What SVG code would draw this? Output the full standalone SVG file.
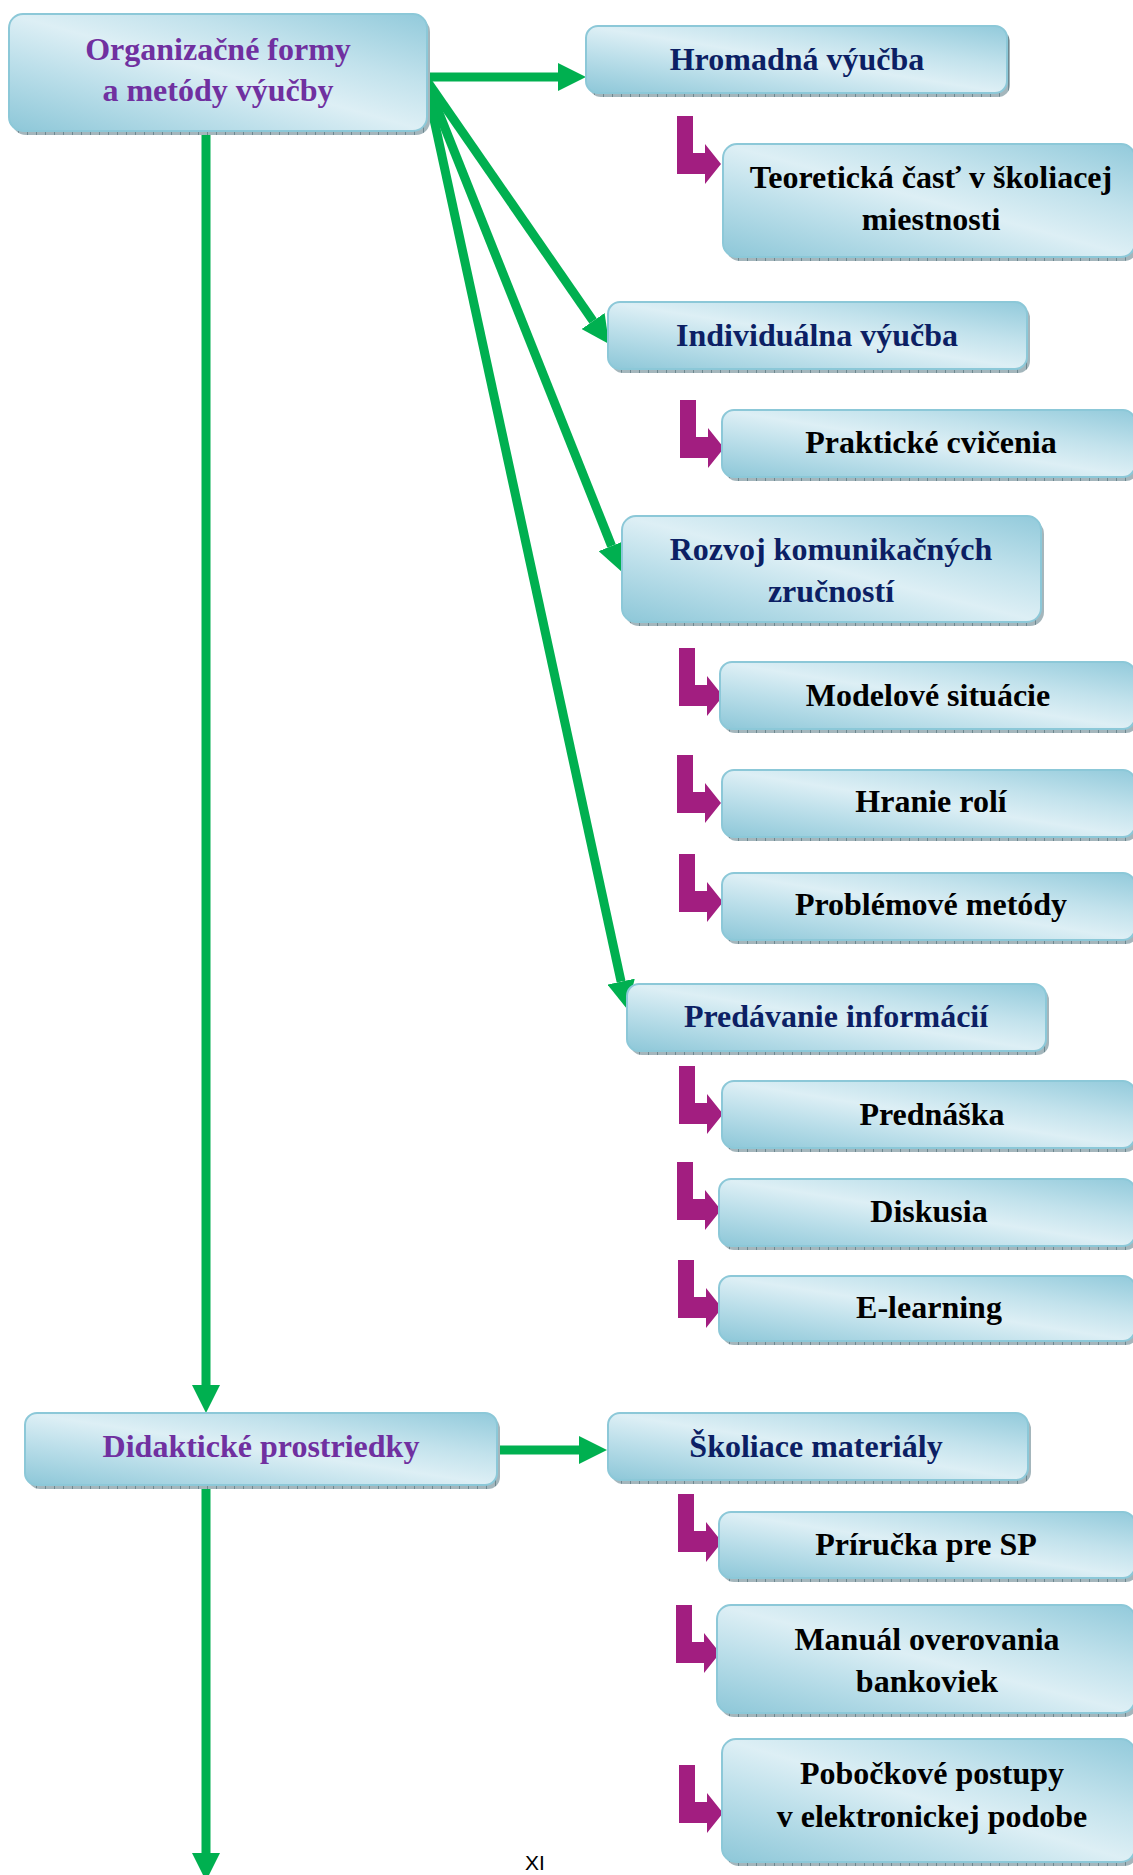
<svg xmlns="http://www.w3.org/2000/svg" xmlns:xlink="http://www.w3.org/1999/xlink" width="1133" height="1875" viewBox="0 0 1133 1875">
<style>
.box{fill:url(#grad);stroke:#8CC8D8;stroke-width:2}
.sh{fill:url(#hatch)}
text{font-family:"Liberation Serif","Times New Roman",serif;font-weight:bold;font-size:32px;text-anchor:middle}
.p{fill:#7030A0}
.n{fill:#0C1F64}
.k{fill:#000000}
.conn{stroke:#00B050;stroke-width:9;fill:none;marker-end:url(#ah)}
.L{fill:#A21E80}
.pg{font-family:"Liberation Sans",Arial,sans-serif;font-weight:normal;font-size:21px;text-anchor:start;fill:#000}
</style>
<defs>
<linearGradient id="grad" x1="0" y1="1" x2="1" y2="0">
<stop offset="0" stop-color="#8DC7D8"/>
<stop offset="0.3" stop-color="#BCDFEA"/>
<stop offset="0.5" stop-color="#DDEFF5"/>
<stop offset="0.7" stop-color="#C2E2EC"/>
<stop offset="1" stop-color="#92CADB"/>
</linearGradient>
<pattern id="hatch" width="9" height="5" patternUnits="userSpaceOnUse">
<rect width="9" height="5" fill="#A4B6BC"/>
<line x1="0.5" y1="0" x2="0.5" y2="5" stroke="#6E8890" stroke-width="1"/>
</pattern>
<marker id="ah" markerUnits="userSpaceOnUse" viewBox="0 0 28 28" markerWidth="28" markerHeight="28" refX="0" refY="14" orient="auto">
<path d="M0,0 L28,14 L0,28 Z" fill="#00B050"/>
</marker>
<path id="Lar" d="M-44,-48 H-28 V-11 H-16 V-20 L0,0 L-16,20 V10 H-44 Z"/>
</defs>
<rect width="1133" height="1875" fill="#FFFFFF"/>

<g id="connectors">
<line class="conn" x1="427" y1="77" x2="558" y2="77"/>
<line class="conn" x1="425" y1="78" x2="593.1" y2="321"/>
<line class="conn" x1="425" y1="78" x2="611.6" y2="546"/>
<line class="conn" x1="425" y1="78" x2="621.1" y2="981.6"/>
<line class="conn" x1="206" y1="131" x2="206" y2="1385"/>
<line class="conn" x1="497" y1="1450" x2="579" y2="1450"/>
<line class="conn" x1="206" y1="1486" x2="206" y2="1853"/>
<g class="L">
<use xlink:href="#Lar" x="721" y="164"/>
<use xlink:href="#Lar" x="724" y="448"/>
<use xlink:href="#Lar" x="723" y="696"/>
<use xlink:href="#Lar" x="721" y="803"/>
<use xlink:href="#Lar" x="723" y="902"/>
<use xlink:href="#Lar" x="723" y="1114"/>
<use xlink:href="#Lar" x="721" y="1210"/>
<use xlink:href="#Lar" x="722" y="1308"/>
<use xlink:href="#Lar" x="722" y="1542"/>
<use xlink:href="#Lar" x="720" y="1653"/>
<use xlink:href="#Lar" x="723" y="1813"/>
</g>
</g>

<g id="n-main">
<rect class="sh" x="12" y="18" width="418" height="117" rx="14"/>
<rect class="box" x="9" y="14" width="418" height="117" rx="14"/>
<text class="p" x="218" y="60">Organizačné formy</text>
<text class="p" x="218" y="101">a metódy výučby</text>
</g>
<g id="n-hromadna">
<rect class="sh" x="589" y="30" width="421" height="67" rx="12"/>
<rect class="box" x="586" y="26" width="421" height="67" rx="12"/>
<text class="n" x="797" y="70">Hromadná výučba</text>
</g>
<g id="n-teoreticka">
<rect class="sh" x="726" y="148" width="412" height="113" rx="14"/>
<rect class="box" x="723" y="144" width="412" height="113" rx="14"/>
<text class="k" x="931" y="188">Teoretická časť v školiacej</text>
<text class="k" x="931" y="230">miestnosti</text>
</g>
<g id="n-individualna">
<rect class="sh" x="611" y="306" width="419" height="67" rx="12"/>
<rect class="box" x="608" y="302" width="419" height="67" rx="12"/>
<text class="n" x="817" y="346">Individuálna výučba</text>
</g>
<g id="n-prakticke">
<rect class="sh" x="725" y="414" width="413" height="67" rx="12"/>
<rect class="box" x="722" y="410" width="413" height="67" rx="12"/>
<text class="k" x="931" y="453">Praktické cvičenia</text>
</g>
<g id="n-rozvoj">
<rect class="sh" x="625" y="520" width="419" height="106" rx="14"/>
<rect class="box" x="622" y="516" width="419" height="106" rx="14"/>
<text class="n" x="831" y="560">Rozvoj komunikačných</text>
<text class="n" x="831" y="602">zručností</text>
</g>
<g id="n-modelove">
<rect class="sh" x="723" y="666" width="415" height="67" rx="12"/>
<rect class="box" x="720" y="662" width="415" height="67" rx="12"/>
<text class="k" x="928" y="706">Modelové situácie</text>
</g>
<g id="n-hranie">
<rect class="sh" x="725" y="774" width="413" height="67" rx="12"/>
<rect class="box" x="722" y="770" width="413" height="67" rx="12"/>
<text class="k" x="931" y="812">Hranie rolí</text>
</g>
<g id="n-problemove">
<rect class="sh" x="725" y="877" width="413" height="67" rx="12"/>
<rect class="box" x="722" y="873" width="413" height="67" rx="12"/>
<text class="k" x="931" y="915">Problémové metódy</text>
</g>
<g id="n-predavanie">
<rect class="sh" x="630" y="988" width="419" height="67" rx="12"/>
<rect class="box" x="627" y="984" width="419" height="67" rx="12"/>
<text class="n" x="836" y="1027">Predávanie informácií</text>
</g>
<g id="n-prednaska">
<rect class="sh" x="725" y="1085" width="413" height="67" rx="12"/>
<rect class="box" x="722" y="1081" width="413" height="67" rx="12"/>
<text class="k" x="932" y="1125">Prednáška</text>
</g>
<g id="n-diskusia">
<rect class="sh" x="722" y="1183" width="416" height="67" rx="12"/>
<rect class="box" x="719" y="1179" width="416" height="67" rx="12"/>
<text class="k" x="929" y="1222">Diskusia</text>
</g>
<g id="n-elearning">
<rect class="sh" x="722" y="1280" width="416" height="65" rx="12"/>
<rect class="box" x="719" y="1276" width="416" height="65" rx="12"/>
<text class="k" x="929" y="1318">E-learning</text>
</g>
<g id="n-didakticke">
<rect class="sh" x="28" y="1417" width="472" height="72" rx="12"/>
<rect class="box" x="25" y="1413" width="472" height="72" rx="12"/>
<text class="p" x="261" y="1457">Didaktické prostriedky</text>
</g>
<g id="n-skoliace">
<rect class="sh" x="611" y="1417" width="420" height="67" rx="12"/>
<rect class="box" x="608" y="1413" width="420" height="67" rx="12"/>
<text class="n" x="816" y="1457">Školiace materiály</text>
</g>
<g id="n-prirucka">
<rect class="sh" x="722" y="1516" width="416" height="66" rx="12"/>
<rect class="box" x="719" y="1512" width="416" height="66" rx="12"/>
<text class="k" x="926" y="1555">Príručka pre SP</text>
</g>
<g id="n-manual">
<rect class="sh" x="720" y="1609" width="418" height="108" rx="14"/>
<rect class="box" x="717" y="1605" width="418" height="108" rx="14"/>
<text class="k" x="927" y="1650">Manuál overovania</text>
<text class="k" x="927" y="1692">bankoviek</text>
</g>
<g id="n-pobockove">
<rect class="sh" x="725" y="1743" width="413" height="123" rx="14"/>
<rect class="box" x="722" y="1739" width="413" height="123" rx="14"/>
<text class="k" x="932" y="1784">Pobočkové postupy</text>
<text class="k" x="932" y="1827">v elektronickej podobe</text>
</g>
<text class="pg" x="525" y="1870">XI</text>
</svg>
